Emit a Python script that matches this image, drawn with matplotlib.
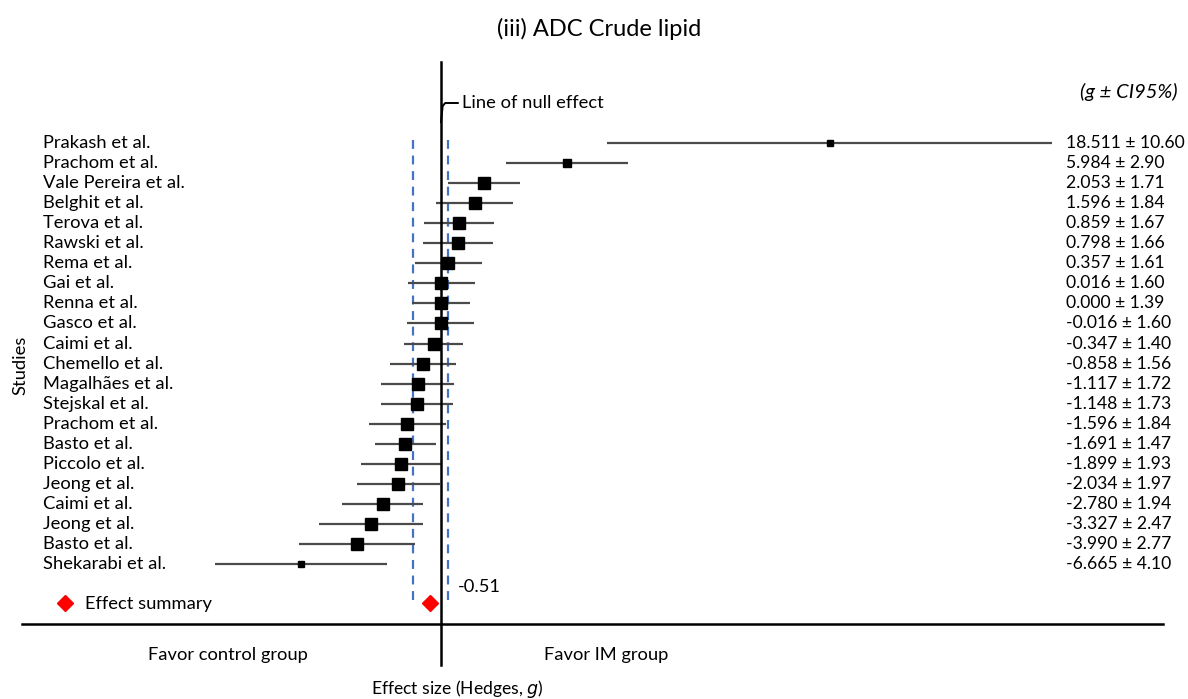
import numpy as np
import matplotlib.pyplot as plt

# 各研究数据 (Hedges g 与 95% 置信区间半宽)
studies = ["Prakash et al.", "Prachom et al.", "Vale Pereira et al.", "Belghit et al.",
           "Terova et al.", "Rawski et al.", "Rema et al.", "Gai et al.", "Renna et al.",
           "Gasco et al.", "Caimi et al.", "Chemello et al.", "Magalhães et al.",
           "Stejskal et al.", "Prachom et al.", "Basto et al.", "Piccolo et al.",
           "Jeong et al.", "Caimi et al.", "Jeong et al.", "Basto et al.", "Shekarabi et al."]
g = [18.511, 5.984, 2.053, 1.596, 0.859, 0.798, 0.357, 0.016, 0.000, -0.016, -0.347,
     -0.858, -1.117, -1.148, -1.596, -1.691, -1.899, -2.034, -2.780, -3.327, -3.990, -6.665]
ci = [10.60, 2.90, 1.71, 1.84, 1.67, 1.66, 1.61, 1.60, 1.39, 1.60, 1.40,
      1.56, 1.72, 1.73, 1.84, 1.47, 1.93, 1.97, 1.94, 2.47, 2.77, 4.10]
weight = [0.55, 0.6, 1, 1, 1, 1, 1, 1, 1, 1, 1, 1, 1, 1, 1, 1, 1, 1, 1, 1, 1, 0.55]
summary_g = -0.51
summary_ci = 0.83

plt.rcParams['font.family'] = ['Lato', 'DejaVu Sans']
FS = 13.2

fig = plt.figure(figsize=(11.88, 6.99), dpi=100)
ax = fig.add_axes([0, 0, 1, 1])
# x: 1 单位 = 21 px, 零线在 441 px; y: 行间距 20.05 px, 第一行在 143 px
px = lambda p: (p - 441) / 21
py = lambda p: (p - 143) / 20.05
ax.set_xlim(px(0), px(1188))
ax.set_ylim(py(699), py(0))
ax.axis('off')

rows = np.arange(len(studies))
g = np.array(g)
ci = np.array(ci)

# 置信区间与点估计
ax.hlines(rows, g - ci, g + ci, color='#4a4a4a', lw=1.6, zorder=2)
for r, gv, w in zip(rows, g, weight):
    ax.plot(gv, r, 's', color='black', ms=8.8 * w, zorder=3)

# 汇总效应区间 (虚线)
for xv in (summary_g - summary_ci, summary_g + summary_ci):
    ax.plot([xv, xv], [py(140), py(600)], ls=(0, (4, 3)), color='#4472C4', lw=1.6, zorder=1)

# 零效应线与坐标轴
ax.plot([0, 0], [py(62), py(665)], color='black', lw=1.8, zorder=4)
ax.plot([px(22), px(1163)], [py(623.5), py(623.5)], color='black', lw=1.8)

# 汇总菱形
ax.plot(summary_g, py(603), 'D', color='red', ms=8, zorder=5)
ax.text(px(458), py(587), f"{summary_g:.2f}", fontsize=FS, va='center', ha='left')

# 零效应线标注
ax.plot([0, 0.08, 0.2, 0.8], [py(122), py(106), py(103), py(103)], color='black', lw=1.4)
ax.text(px(462), py(103), "Line of null effect", fontsize=FS, va='center', ha='left')

# 研究名称与数值
for r, name, gv, c in zip(rows, studies, g, ci):
    ax.text(px(43), r, name, fontsize=FS, va='center', ha='left')
    ax.text(px(1066), r, f"{gv:.3f} ± {c:.2f}", fontsize=12.6, va='center', ha='left')

ax.text(px(1129), py(92), "(g ± CI95%)", fontsize=14.5, va='center', ha='center',
        style='italic')

# 图例
ax.plot(px(65), py(603), 'D', color='red', ms=8)
ax.text(px(85), py(604), "Effect summary", fontsize=FS, va='center', ha='left')

# 轴说明
ax.text(px(228), py(655), "Favor control group", fontsize=FS, va='center', ha='center')
ax.text(px(606), py(655), "Favor IM group", fontsize=FS, va='center', ha='center')
ax.text(px(457), py(689), "Effect size (Hedges, $g$)", fontsize=12.6, va='center', ha='center')
ax.text(px(20), py(365), "Studies", fontsize=FS, va='center', ha='center', rotation=90)
ax.text(px(599), py(29), "(iii) ADC Crude lipid", fontsize=17, va='center', ha='center')

fig.savefig("out.png", dpi=100)
